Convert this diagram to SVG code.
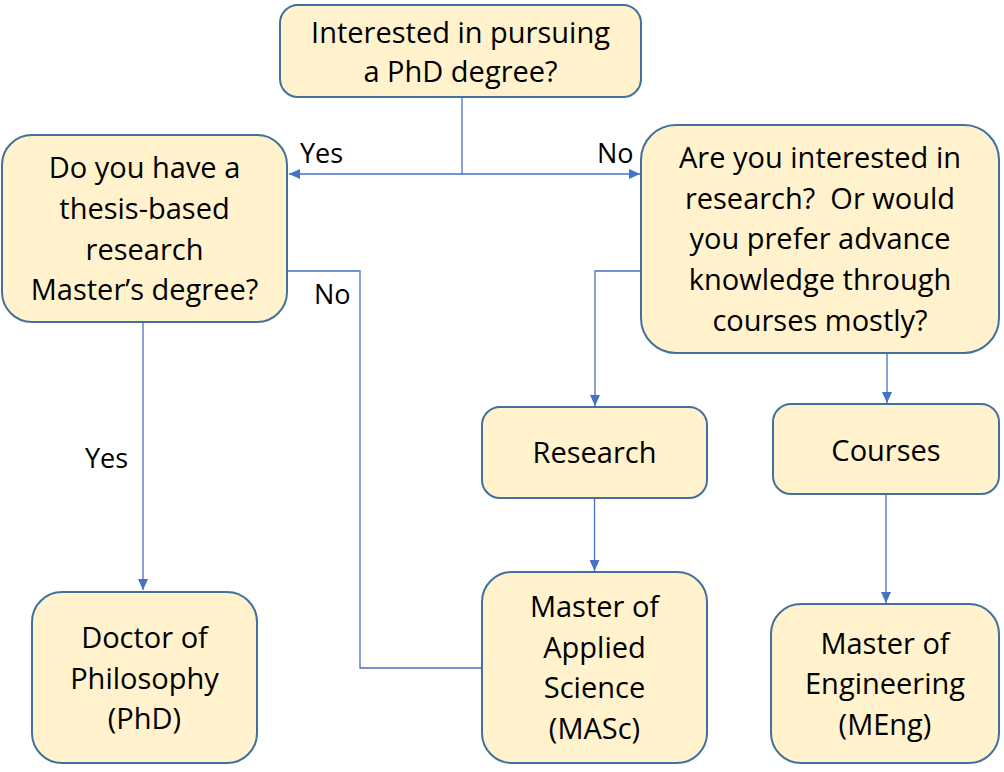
<svg xmlns="http://www.w3.org/2000/svg" width="1004" height="772" viewBox="0 0 1004 772">
<style>
.box{fill:#FFF2CC;stroke:#41719C;stroke-width:2}
.t{font-family:"Open Sans","Liberation Sans",sans-serif;font-size:29px;fill:#000;text-anchor:middle}
.lbl{font-family:"Open Sans","Liberation Sans",sans-serif;font-size:27px;fill:#000}
.c{fill:none;stroke:#4472C4;stroke-width:1.3}
</style>
<defs>
<marker id="arr" markerUnits="userSpaceOnUse" markerWidth="12" markerHeight="10" refX="11" refY="5" orient="auto">
<path d="M0,0 L11,5 L0,10 Z" fill="#4472C4"/>
</marker>
</defs>
<rect width="1004" height="772" fill="#fff"/>
<g id="connectors">
<path class="c" d="M462,97 V174"/>
<path class="c" d="M462,174 H289" marker-end="url(#arr)"/>
<path class="c" d="M462,174 H640" marker-end="url(#arr)"/>
<path class="c" d="M287,271 H360 V668 H482"/>
<path class="c" d="M143,322 V590" marker-end="url(#arr)"/>
<path class="c" d="M641,271 H595 V406" marker-end="url(#arr)"/>
<path class="c" d="M887,353 V403" marker-end="url(#arr)"/>
<path class="c" d="M594.5,498 V571" marker-end="url(#arr)"/>
<path class="c" d="M886,494 V603" marker-end="url(#arr)"/>
</g>
<g id="labels">
<text class="lbl" x="300" y="163">Yes</text>
<text class="lbl" x="597" y="163">No</text>
<text class="lbl" x="314" y="304">No</text>
<text class="lbl" x="85" y="468">Yes</text>
</g>
<g id="n-phd-question">
<rect class="box" x="280" y="5" width="361" height="92" rx="18"/>
<text class="t" x="460.5" y="43">Interested in pursuing</text>
<text class="t" x="460.5" y="82">a PhD degree?</text>
</g>
<g id="n-thesis-master">
<rect class="box" x="2" y="135" width="285" height="187" rx="30"/>
<text class="t" x="144.5" y="178">Do you have a</text>
<text class="t" x="144.5" y="219">thesis-based</text>
<text class="t" x="144.5" y="260">research</text>
<text class="t" x="144.5" y="300">Master’s degree?</text>
</g>
<g id="n-interest">
<rect class="box" x="641" y="125" width="358" height="228" rx="35"/>
<text class="t" x="820" y="168">Are you interested in</text>
<text class="t" x="820" y="209" xml:space="preserve">research?  Or would</text>
<text class="t" x="820" y="249">you prefer advance</text>
<text class="t" x="820" y="290">knowledge through</text>
<text class="t" x="820" y="331">courses mostly?</text>
</g>
<g id="n-research">
<rect class="box" x="482" y="407" width="225" height="91" rx="18"/>
<text class="t" x="594.5" y="463">Research</text>
</g>
<g id="n-courses">
<rect class="box" x="773" y="404" width="226" height="90" rx="18"/>
<text class="t" x="886" y="461">Courses</text>
</g>
<g id="n-phd">
<rect class="box" x="32" y="592" width="225" height="171" rx="30"/>
<text class="t" x="144.5" y="648">Doctor of</text>
<text class="t" x="144.5" y="689">Philosophy</text>
<text class="t" x="144.5" y="729">(PhD)</text>
</g>
<g id="n-masc">
<rect class="box" x="482" y="572" width="225" height="191" rx="30"/>
<text class="t" x="594.5" y="617">Master of</text>
<text class="t" x="594.5" y="658">Applied</text>
<text class="t" x="594.5" y="698">Science</text>
<text class="t" x="594.5" y="739">(MASc)</text>
</g>
<g id="n-meng">
<rect class="box" x="771" y="604" width="228" height="159" rx="30"/>
<text class="t" x="885" y="654">Master of</text>
<text class="t" x="885" y="694">Engineering</text>
<text class="t" x="885" y="735">(MEng)</text>
</g>
</svg>
